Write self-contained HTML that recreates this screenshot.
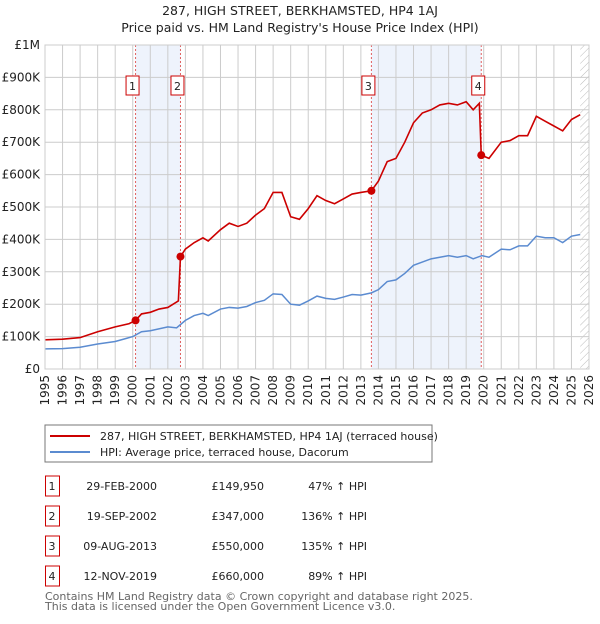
<!DOCTYPE html>
<html><head><meta charset="utf-8"><style>
body{margin:0;background:#fff;font-family:"DejaVu Sans","Liberation Sans",sans-serif;}
svg text{font-family:"DejaVu Sans","Liberation Sans",sans-serif;}
</style></head><body>
<svg id="c" width="600" height="620" xmlns="http://www.w3.org/2000/svg">
<defs><pattern id="hatch" width="5" height="5" patternUnits="userSpaceOnUse" patternTransform="rotate(45)"><line x1="0" y1="0" x2="0" y2="5" stroke="#bbb" stroke-width="1"/></pattern></defs>
<text x="300" y="15" text-anchor="middle" font-size="12.5" fill="#222">287, HIGH STREET, BERKHAMSTED, HP4 1AJ</text>
<text x="300" y="32" text-anchor="middle" font-size="12.5" fill="#222">Price paid vs. HM Land Registry's House Price Index (HPI)</text>
<g id="plot"></g>
<rect x="45" y="425" width="387" height="37" fill="#fff" stroke="#777"/>
<line x1="50" y1="436" x2="90" y2="436" stroke="#cc0000" stroke-width="2"/>
<text x="100" y="440" font-size="11" fill="#222">287, HIGH STREET, BERKHAMSTED, HP4 1AJ (terraced house)</text>
<line x1="50" y1="452" x2="90" y2="452" stroke="#5b8bd0" stroke-width="2"/>
<text x="100" y="456" font-size="11" fill="#222">HPI: Average price, terraced house, Dacorum</text>
<g id="tbl" font-size="11" fill="#222"></g>
<text x="45" y="600" font-size="11" fill="#666">Contains HM Land Registry data © Crown copyright and database right 2025.</text>
<text x="45" y="610" font-size="11" fill="#666">This data is licensed under the Open Government Licence v3.0.</text>
</svg>
<script>
const hpiYears=[1995,1996,1997,1998,1999,2000,2000.5,2001,2002,2002.5,2003,2003.5,2004,2004.3,2005,2005.5,2006,2006.5,2007,2007.5,2008,2008.5,2009,2009.5,2010,2010.5,2011,2011.5,2012,2012.5,2013,2013.6,2014,2014.5,2015,2015.5,2016,2016.5,2017,2017.5,2018,2018.5,2019,2019.4,2019.9,2020.3,2021,2021.5,2022,2022.5,2023,2023.5,2024,2024.5,2025,2025.5];
const hpiValues=[62,63,67,77,85,100,115,118,130,127,150,165,172,165,185,190,188,193,205,212,232,230,200,197,210,225,218,215,222,230,228,235,245,270,275,295,320,330,340,345,350,345,350,340,350,345,370,368,380,380,410,405,405,390,410,415];
const priceYears=[1995,1996,1997,1998,1999,1999.8,2000.16,2000.5,2001,2001.5,2002,2002.6,2002.72,2003,2003.5,2004,2004.3,2005,2005.5,2006,2006.5,2007,2007.5,2008,2008.5,2009,2009.5,2010,2010.5,2011,2011.5,2012,2012.5,2013,2013.6,2014,2014.5,2015,2015.5,2016,2016.5,2017,2017.5,2018,2018.5,2019,2019.4,2019.75,2019.86,2020.3,2021,2021.5,2022,2022.5,2023,2023.5,2024,2024.5,2025,2025.5];
const priceValues=[90,92,97,115,130,140,150,170,175,185,190,210,347,370,390,405,395,430,450,440,450,475,495,545,545,470,462,495,535,520,510,525,540,545,550,580,640,650,700,760,790,800,815,820,815,825,800,820,660,650,700,705,720,720,780,765,750,735,770,785];
const saleLabels=["1","2","3","4"];
const saleYears=[2000.16,2002.72,2013.6,2019.86];
const saleValues=[149.95,347,550,660];
const saleDates=["29-FEB-2000","19-SEP-2002","09-AUG-2013","12-NOV-2019"];
const salePrices=["£149,950","£347,000","£550,000","£660,000"];
const salePct=["47% ↑ HPI","136% ↑ HPI","135% ↑ HPI","89% ↑ HPI"];
const yTicks=[0,100,200,300,400,500,600,700,800,900,1000];
const yTickLabels=["£0","£100K","£200K","£300K","£400K","£500K","£600K","£700K","£800K","£900K","£1M"];
const xTicks=[1995,1996,1997,1998,1999,2000,2001,2002,2003,2004,2005,2006,2007,2008,2009,2010,2011,2012,2013,2014,2015,2016,2017,2018,2019,2020,2021,2022,2023,2024,2025,2026];

const NS="http://www.w3.org/2000/svg";
const X0=45,X1=589,Y0=369,Y1=45;
const xs=y=>X0+(y-1995)/(2026-1995)*(X1-X0);
const ys=v=>Y0-v/1000*(Y0-Y1);
const g=document.getElementById('plot');
function mk(t,a,p){const e=document.createElementNS(NS,t);for(const k in a)e.setAttribute(k,a[k]);(p||g).appendChild(e);return e;}
for(const [a,b] of [[0,1],[2,3]]){const r=mk('rect',{x:xs(saleYears[a]),y:Y1,width:xs(saleYears[b])-xs(saleYears[a]),height:Y0-Y1,fill:'#eef3fc'});

}
const h=mk('rect',{x:xs(2025.5),y:Y1,width:X1-xs(2025.5),height:Y0-Y1,fill:'url(#hatch)'});


yTicks.forEach((v,i)=>{const l=mk('line',{x1:X0,x2:X1,y1:ys(v),y2:ys(v),stroke:'#ccc'});


const t=mk('text',{x:X0-5,y:ys(v)+4,'text-anchor':'end','font-size':12,fill:'#222'});t.textContent=yTickLabels[i];

});
xTicks.forEach(y=>{const l=mk('line',{x1:xs(y),x2:xs(y),y1:Y1,y2:Y0,stroke:'#ccc'});


const t=mk('text',{x:0,y:0,'text-anchor':'end','font-size':12,fill:'#222',transform:`translate(${xs(y)+4},${Y0+6}) rotate(-90)`});t.textContent=y;

});
saleYears.forEach((y,i)=>{const l=mk('line',{x1:xs(y),x2:xs(y),y1:Y1,y2:Y0,stroke:'#e06060','stroke-dasharray':'2,2','stroke-width':1});


const r=mk('rect',{x:xs(y)-9.5,y:76,width:13,height:19,fill:'#fff',stroke:'#cc0000'});


const t=mk('text',{x:xs(y)-3,y:90,'text-anchor':'middle','font-size':11,fill:'#222'});t.textContent=saleLabels[i];

});
const hp=mk('polyline',{points:hpiYears.map((y,i)=>xs(y)+','+ys(hpiValues[i])).join(' '),fill:'none',stroke:'#5b8bd0','stroke-width':1.5});


const pp=mk('polyline',{points:priceYears.map((y,i)=>xs(y)+','+ys(priceValues[i])).join(' '),fill:'none',stroke:'#cc0000','stroke-width':1.6});


saleYears.forEach((y,i)=>{const c=mk('circle',{cx:xs(y),cy:ys(saleValues[i]),r:4,fill:'#cc0000'});

});
mk('rect',{x:X0,y:Y1,width:X1-X0,height:Y0-Y1,fill:'none',stroke:'#ccc'});
const tb=document.getElementById('tbl');
saleLabels.forEach((s,i)=>{const yy=483+i*30;
const r=mk('rect',{x:45.5,y:yy-7,width:14,height:20,fill:'#fff',stroke:'#cc0000'},tb);


const cells=[[52,s,'middle'],[157,saleDates[i],'end'],[264,salePrices[i],'end'],[367,salePct[i],'end']];
cells.forEach(([x,txt,an])=>{const t=mk('text',{x:x,y:yy+7,'text-anchor':an},tb);t.textContent=txt;

});});
</script>
</body></html>
